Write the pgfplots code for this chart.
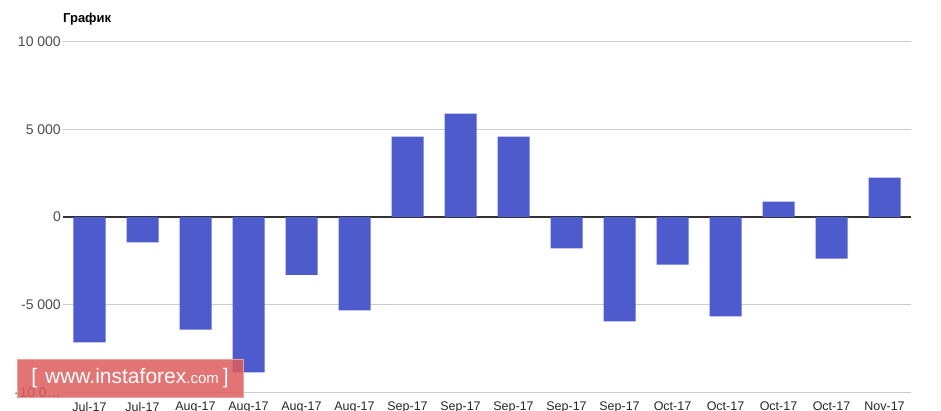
\documentclass[border=0pt]{standalone}
\usepackage{pgfplots}
\pgfplotsset{compat=1.18}
\usepackage{fontspec}
\setmainfont{Liberation Sans}
\definecolor{barblue}{RGB}{78,91,204}
\definecolor{wmred}{RGB}{222,92,92}
\definecolor{wmedge}{RGB}{238,160,160}
\begin{document}
\begin{tikzpicture}
\useasboundingbox (0pt,0pt) rectangle (941pt,410pt);
\begin{axis}[
  at={(63pt,17.7pt)}, anchor=south west,
  scale only axis, width=848pt, height=350.6pt,
  ybar, bar width=32pt,
  xmin=-0.5, xmax=15.5, ymin=-10000, ymax=10000,
  scaled y ticks=false,
  axis line style={draw=none},
  xtick={0,1,2,3,4,5,6,7,8,9,10,11,12,13,14,15},
  xticklabels={Jul-17,Jul-17,Aug-17,Aug-17,Aug-17,Aug-17,Sep-17,Sep-17,Sep-17,Sep-17,Sep-17,Oct-17,Oct-17,Oct-17,Oct-17,Nov-17},
  ytick={-10000,-5000,5000,10000},
  yticklabels={{-10 0\ldots},{-5 000},{5 000},{10 000}},
  extra y ticks={0}, extra y tick labels={0},
  extra y tick style={grid style={draw=black!80, line width=1.3pt}},
  ymajorgrids, grid style={draw=black!20, line width=0.9pt},
  major tick length=0pt,
  xticklabel style={font=\fontsize{12.5}{14}\selectfont, text=black!85, anchor=north, inner sep=0pt, yshift=-9.5pt},
  yticklabel style={font=\fontsize{14}{16}\selectfont, text=black!70, anchor=east, inner sep=0pt, xshift=-2pt},
  clip=false,
]
\addplot[fill=barblue, draw=none] coordinates {
(0,-7150) (1,-1450) (2,-6430) (3,-8860) (4,-3300) (5,-5330)
(6,4580) (7,5890) (8,4580) (9,-1790) (10,-5960) (11,-2710)
(12,-5670) (13,875) (14,-2370) (15,2250)};
\end{axis}
\node[anchor=west, inner sep=0pt, font=\fontsize{13}{15}\selectfont\bfseries] at (63pt,390.5pt) {График};
\node[fill=wmred, draw=wmedge, line width=1pt, fill opacity=0.85, text opacity=1, text=white,
      minimum width=226pt, minimum height=38pt, inner sep=0pt] at (130pt,32pt)
  {\fontsize{21}{24}\selectfont [\hspace{8pt}www.instaforex\fontsize{15}{18}\selectfont.com\hspace{4pt}\fontsize{21}{24}\selectfont]};
\end{tikzpicture}
\end{document}
